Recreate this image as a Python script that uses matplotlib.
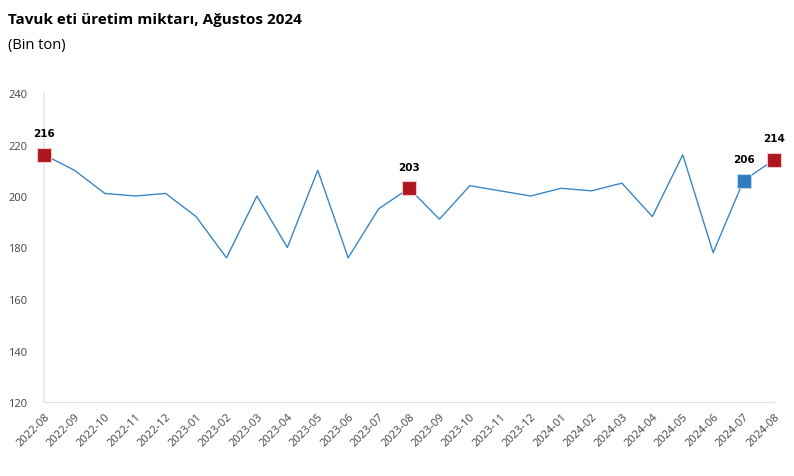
import matplotlib.pyplot as plt

months = ["2022-08", "2022-09", "2022-10", "2022-11", "2022-12", "2023-01", "2023-02",
          "2023-03", "2023-04", "2023-05", "2023-06", "2023-07", "2023-08", "2023-09",
          "2023-10", "2023-11", "2023-12", "2024-01", "2024-02", "2024-03", "2024-04",
          "2024-05", "2024-06", "2024-07", "2024-08"]
production = [216, 210, 201, 200, 201, 192, 176, 200, 180, 210, 176, 195, 203, 191,
              204, 202, 200, 203, 202, 205, 192, 216, 178, 206, 214]

red_points = [0, 12, 24]
blue_points = [23]

plt.rcParams['font.family'] = ['Open Sans', 'DejaVu Sans']

fig = plt.figure(figsize=(7.94, 4.77), dpi=100)
ax = fig.add_axes([44 / 794, 1 - 403 / 477, 730 / 794, 309 / 477])

x = list(range(len(months)))
ax.plot(x, production, color="#3a87c6", lw=1.0, zorder=2)

for i in red_points:
    ax.plot(i, production[i], marker="s", ms=10, color="#b0161d", mec="#f3c6c8", mew=0.8, zorder=3)
    ax.annotate(str(production[i]), (i, production[i]), xytext=(0, 12), textcoords="offset points",
                ha="center", va="bottom", fontsize=7.5, fontweight="bold", family="DejaVu Sans")
for i in blue_points:
    ax.plot(i, production[i], marker="s", ms=10, color="#2f7bbd", mec="#bcd7ef", mew=0.8, zorder=3)
    ax.annotate(str(production[i]), (i, production[i]), xytext=(0, 12), textcoords="offset points",
                ha="center", va="bottom", fontsize=7.5, fontweight="bold", family="DejaVu Sans")

ax.set_xlim(0, len(months) - 1)
ax.set_ylim(120, 240)
ax.set_yticks([120, 140, 160, 180, 200, 220, 240])
ax.set_xticks(x)
ax.set_xticklabels(months, rotation=45, ha="right", rotation_mode="anchor")
ax.tick_params(axis="both", length=0, labelsize=8, labelcolor="#444444")
ax.tick_params(axis="y", pad=12)
ax.tick_params(axis="x", pad=6)

for s in ["top", "right"]:
    ax.spines[s].set_visible(False)
ax.spines["left"].set_color("#e6e6e6")
ax.spines["bottom"].set_color("#e0e0e0")
ax.spines["left"].set_linewidth(1.2)
for line in ax.lines:
    line.set_clip_on(False)

fig.text(8 / 794, 1 - 20 / 477, "Tavuk eti üretim miktarı, Ağustos 2024", fontsize=11,
         fontweight="bold", va="center", ha="left")
fig.text(8 / 794, 1 - 45 / 477, "(Bin ton)", fontsize=10.5, va="center", ha="left")

fig.savefig("out.png", dpi=100)
